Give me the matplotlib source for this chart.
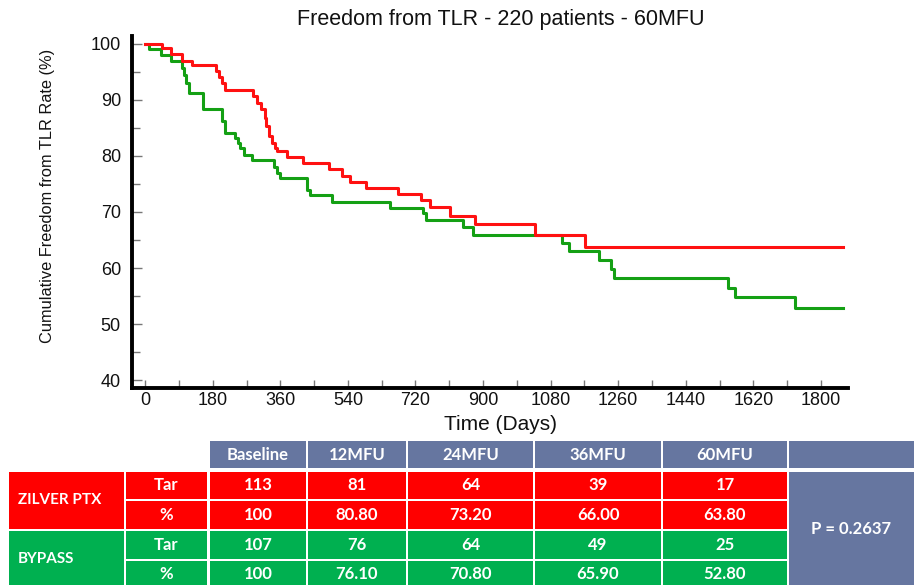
import matplotlib
matplotlib.use("Agg")
import matplotlib.pyplot as plt
from matplotlib.patches import Rectangle
from matplotlib.ticker import MultipleLocator

plt.rcParams['font.family'] = ['Liberation Sans', 'DejaVu Sans']

# ---- Kaplan-Meier step data (days, freedom from TLR %) ----
zilver_days = [0, 46, 69, 98, 126, 188, 196, 204, 213, 286, 297, 309, 319, 323, 330,
               337, 346, 352, 377, 421, 491, 524, 546, 588, 674, 735, 759, 812, 879,
               1038, 1171, 1858]
zilver_pct = [100, 99.3, 98.2, 97.0, 96.3, 95.1, 94.0, 93.0, 91.7, 90.7, 89.5, 88.4, 86.8,
              85.3, 83.5, 82.3, 81.4, 80.8, 79.8, 78.7, 77.6, 76.5, 75.4, 74.3, 73.2, 72.1,
              70.95, 69.3, 67.8, 65.9, 63.8, 63.8]

bypass_days = [0, 10, 41, 68, 98, 104, 110, 116, 155, 206, 213, 240, 247, 253, 262, 284,
               342, 351, 358, 430, 439, 497, 652, 741, 748, 847, 872, 1109, 1129, 1209,
               1242, 1249, 1553, 1571, 1731, 1858]
bypass_pct = [100, 99.1, 98.0, 97.0, 95.7, 94.5, 93.0, 91.2, 88.3, 86.2, 84.1, 83.2, 82.3,
              81.4, 80.2, 79.2, 78.1, 77.0, 76.1, 74.0, 73.0, 71.8, 70.8, 69.8, 68.6, 67.4,
              65.9, 64.4, 63.0, 61.4, 59.8, 58.3, 56.5, 54.8, 52.8, 52.8]

# ---- table data ----
header_labels = ["Baseline", "12MFU", "24MFU", "36MFU", "60MFU", ""]
group_names = ["ZILVER PTX", "BYPASS"]
row_labels = ["Tar", "%"]
zilver_tar = ["113", "81", "64", "39", "17"]
zilver_rate = ["100", "80.80", "73.20", "66.00", "63.80"]
bypass_tar = ["107", "76", "64", "49", "25"]
bypass_rate = ["100", "76.10", "70.80", "65.90", "52.80"]
p_value_text = "P = 0.2637"

title = "Freedom from TLR - 220 patients - 60MFU"
xlabel = "Time (Days)"
ylabel = "Cumulative Freedom from TLR Rate (%)"

RED = "#ff1111"
GREEN = "#14a014"
T_RED = "#ff0000"
T_GREEN = "#00b050"
T_HEAD = "#6676a0"

W, H = 915, 585
fig = plt.figure(figsize=(W / 100, H / 100), dpi=100)

# ---- chart axes ----
ax_l, ax_r, ax_t, ax_b = 132, 848, 36, 388
ax = fig.add_axes([ax_l / W, 1 - ax_b / H, (ax_r - ax_l) / W, (ax_b - ax_t) / H])
ax.step(zilver_days, zilver_pct, where='post', color=RED, lw=2.2, zorder=3)
ax.step(bypass_days, bypass_pct, where='post', color=GREEN, lw=2.2, zorder=2)

ax.set_xlim(-35, 1872)
ax.set_ylim(38.6, 101.4)
for s in ['top', 'right']:
    ax.spines[s].set_visible(False)
for s in ['left', 'bottom']:
    ax.spines[s].set_linewidth(2.8)
    ax.spines[s].set_color('black')

ax.set_xticks(range(0, 1801, 180))
ax.xaxis.set_minor_locator(MultipleLocator(90))
ax.set_yticks(range(40, 101, 10))
ax.yaxis.set_minor_locator(MultipleLocator(5))
ax.tick_params(axis='both', which='both', direction='in', color='#777777', width=1.0,
               labelsize=13, labelcolor='#111111')
ax.tick_params(axis='y', which='major', length=7, pad=8)
ax.tick_params(axis='y', which='minor', length=6)
ax.tick_params(axis='x', which='major', length=6, pad=3)
ax.tick_params(axis='x', which='minor', length=6)

ax.set_ylabel(ylabel, fontsize=11.8, color='#111111')
ax.yaxis.set_label_coords((55 - ax_l) / (ax_r - ax_l), 0.546)

fig.text(501 / W, 1 - 20 / H, title, ha='center', va='center', fontsize=15.5, color='#111111')
fig.text(500 / W, 1 - 424 / H, xlabel, ha='center', va='center', fontsize=15, color='#111111')

# ---- table in pixel coordinates ----
tb = fig.add_axes([0, 0, 1, 1])
tb.set_xlim(0, W)
tb.set_ylim(H, 0)
tb.axis('off')

col_edges = [209, 307, 407, 534, 662, 788, 915]
head_top, head_bot = 440, 469
row_edges = [471, 500, 530, 560, 588]
grp_x0, grp_x1, sub_x1 = 8, 125, 208
font_t = dict(family=['Lato', 'DejaVu Sans'], fontweight='bold', color='white', fontsize=12,
              ha='center', va='center')
gap = 1.0

def cell(x0, y0, x1, y1, color, text=None, ha='center', tx=None, size=12):
    tb.add_patch(Rectangle((x0 + gap, y0 + gap), x1 - x0 - 2 * gap, y1 - y0 - 2 * gap,
                           facecolor=color, edgecolor='none'))
    if text:
        kw = dict(font_t)
        kw['ha'] = ha
        kw['fontsize'] = size
        xx = (x0 + x1) / 2 if tx is None else tx
        tb.text(xx, (y0 + y1) / 2, text, **kw)

for i, lab in enumerate(header_labels):
    cell(col_edges[i], head_top, col_edges[i + 1], head_bot, T_HEAD, lab)

groups = [(zilver_tar, zilver_rate, T_RED), (bypass_tar, bypass_rate, T_GREEN)]
for g, (tar, rate, colr) in enumerate(groups):
    y0 = row_edges[2 * g]
    y2 = row_edges[2 * g + 2]
    cell(grp_x0, y0, grp_x1, y2, colr, group_names[g], ha='left', tx=grp_x0 + 10, size=11)
    for r, vals in enumerate([tar, rate]):
        ya, yb = row_edges[2 * g + r], row_edges[2 * g + r + 1]
        cell(grp_x1, ya, sub_x1, yb, colr, row_labels[r])
        for c, v in enumerate(vals):
            cell(col_edges[c], ya, col_edges[c + 1], yb, colr, v)

cell(col_edges[5], row_edges[0], col_edges[6], row_edges[4], T_HEAD, p_value_text)

fig.savefig("out.png", dpi=100)
